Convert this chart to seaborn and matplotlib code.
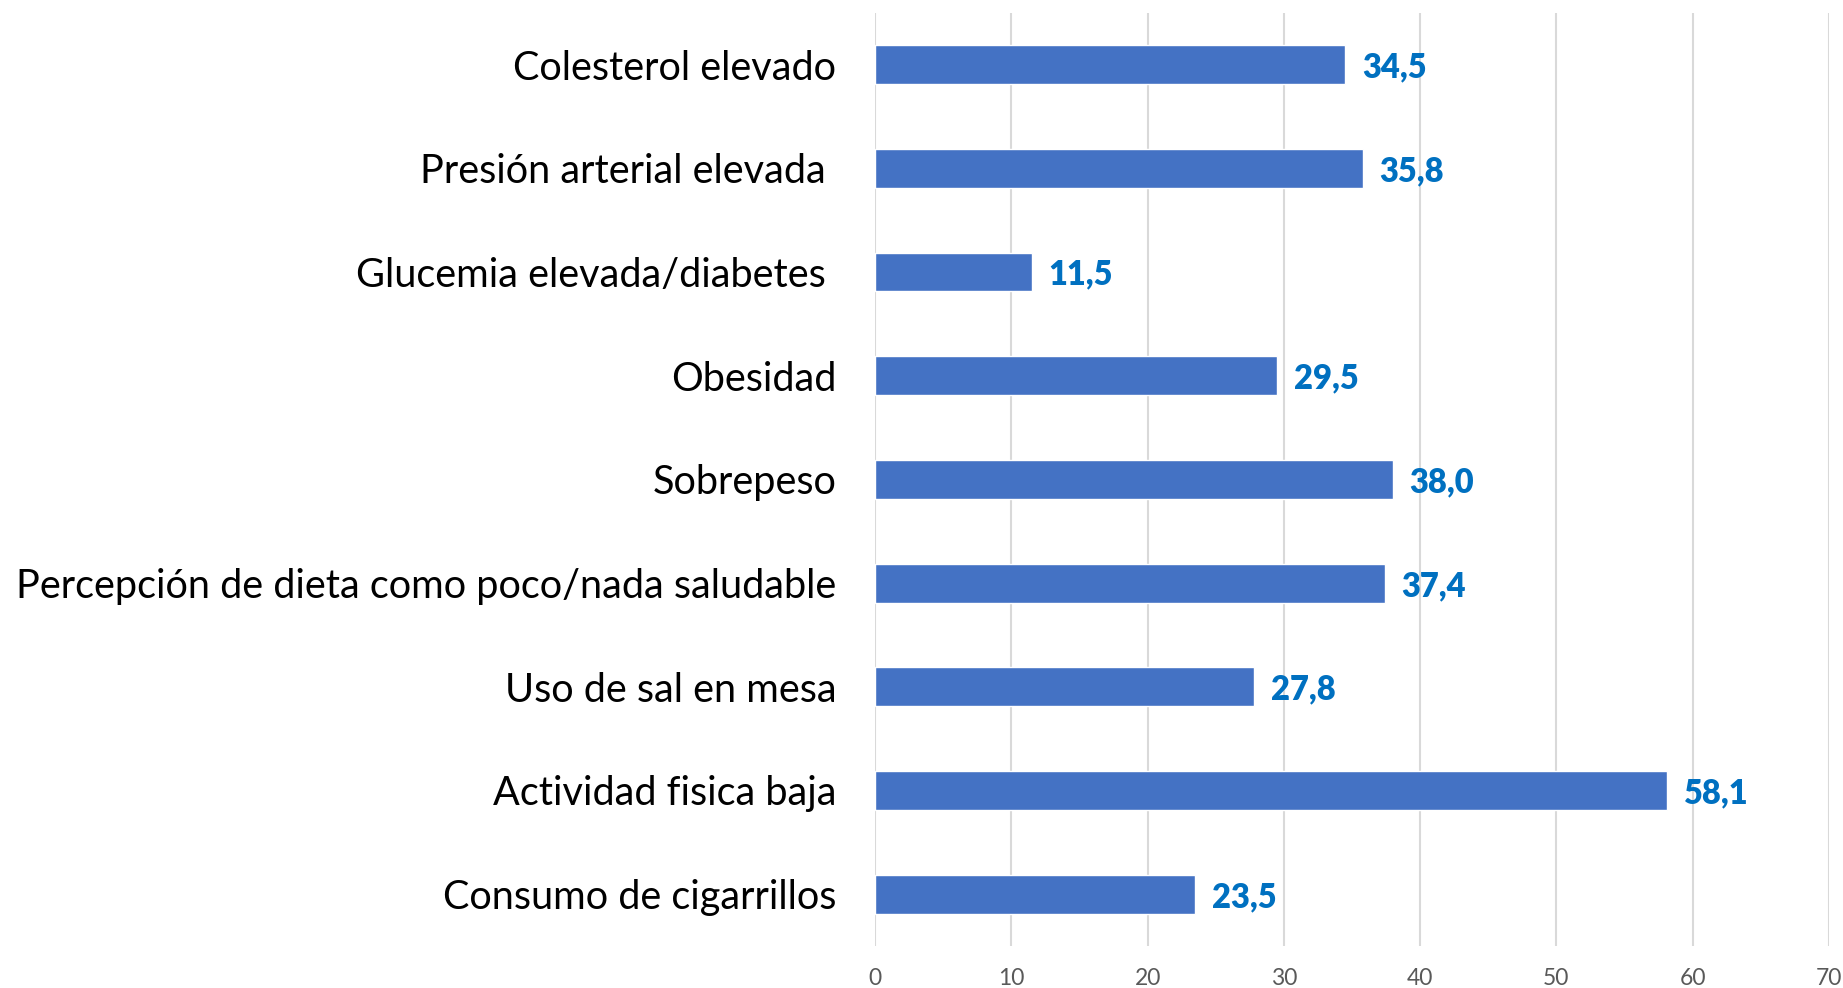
import matplotlib
matplotlib.use("Agg")
import matplotlib.pyplot as plt
import seaborn as sns
import pandas as pd

categories = [
    "Colesterol elevado",
    "Presión arterial elevada ",
    "Glucemia elevada/diabetes ",
    "Obesidad",
    "Sobrepeso",
    "Percepción de dieta como poco/nada saludable",
    "Uso de sal en mesa",
    "Actividad fisica baja",
    "Consumo de cigarrillos",
]
values = [34.5, 35.8, 11.5, 29.5, 38.0, 37.4, 27.8, 58.1, 23.5]
x_ticks = [0, 10, 20, 30, 40, 50, 60, 70]

df = pd.DataFrame({"factor": categories, "pct": values})

sns.set_theme(style="white")
plt.rcParams["font.family"] = ["Lato", "DejaVu Sans"]

fig = plt.figure(figsize=(18.43, 9.88), dpi=100)
ax = fig.add_axes([0.4748, 0.0425, 0.9924 - 0.4748, 0.9871 - 0.0425])

sns.barplot(data=df, x="pct", y="factor", order=categories, color="#4472C4",
            saturation=1, width=0.375, orient="h", ax=ax, zorder=3)

ax.set_xlim(0, 70)
ax.set_ylim(len(categories) - 0.5, -0.5)
ax.set_xticks(x_ticks)
ax.set_xticklabels([str(t) for t in x_ticks], fontsize=16.5, color="#595959")
ax.tick_params(axis="x", length=0, pad=16)
ax.tick_params(axis="y", length=0, pad=28, labelsize=28.5, labelcolor="black")
ax.grid(axis="x", color="#D9D9D9", linewidth=1.5, zorder=0)
ax.grid(axis="y", visible=False)
for s in ax.spines.values():
    s.set_visible(False)
ax.set_xlabel("")
ax.set_ylabel("")

# value labels at the end of each bar, decimal comma
for i, v in enumerate(values):
    ax.annotate(f"{v:.1f}".replace(".", ","), xy=(v, i), xytext=(12, -2),
                textcoords="offset points", ha="left", va="center",
                fontsize=23.5, fontweight="heavy", color="#0070C0")

fig.savefig("out.png", dpi=100)
